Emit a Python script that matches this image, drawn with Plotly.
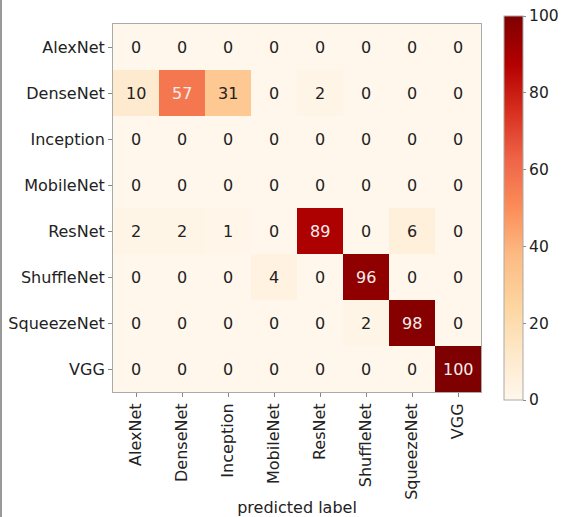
import plotly.graph_objects as go

# Confusion matrix of CNN architecture attribution (rows: true model, cols: predicted)
labels = ["AlexNet", "DenseNet", "Inception", "MobileNet",
          "ResNet", "ShuffleNet", "SqueezeNet", "VGG"]
matrix = [
    [0, 0, 0, 0, 0, 0, 0, 0],
    [10, 57, 31, 0, 2, 0, 0, 0],
    [0, 0, 0, 0, 0, 0, 0, 0],
    [0, 0, 0, 0, 0, 0, 0, 0],
    [2, 2, 1, 0, 89, 0, 6, 0],
    [0, 0, 0, 4, 0, 96, 0, 0],
    [0, 0, 0, 0, 0, 2, 98, 0],
    [0, 0, 0, 0, 0, 0, 0, 100],
]
cbar_ticks = [0, 20, 40, 60, 80, 100]

FONT = "DejaVu Sans"
W, H = 567, 517
L, R, T, B = 113, 86, 24, 125
plot_h = H - T - B
plot_w = W - L - R

fig = go.Figure(go.Heatmap(
    z=matrix, x=labels, y=labels,
    colorscale="OrRd", zmin=0, zmax=100,
    xgap=0, ygap=0,
    colorbar=dict(
        x=(504 - L) / plot_w, xanchor="left", xpad=0,
        y=(H - B - 208) / plot_h, yanchor="middle", ypad=0,
        len=384 / plot_h, lenmode="fraction",
        thickness=19, outlinewidth=1, outlinecolor="#aaaaaa",
        tickvals=cbar_ticks, ticks="outside", ticklen=3,
        tickcolor="#888888",
        tickfont=dict(family=FONT, size=15.5, color="#222222"),
    ),
    hoverinfo="skip",
))

vmax = max(max(r) for r in matrix)
vmin = min(min(r) for r in matrix)
thresh = (vmax + vmin) / 2
for i, row in enumerate(matrix):
    for j, v in enumerate(row):
        fig.add_annotation(
            x=labels[j], y=labels[i], text=str(v), showarrow=False,
            font=dict(family=FONT, size=16,
                      color="#f4eeee" if v > thresh else "#222222"),
        )

axis_common = dict(
    showline=True, linecolor="#aaaaaa", linewidth=1, mirror=True,
    ticks="outside", ticklen=4, tickcolor="#888888",
    tickfont=dict(family=FONT, size=16, color="#222222"),
    showgrid=False, zeroline=False, automargin=False,
)
fig.update_xaxes(**axis_common, tickangle=-90,
                 title=dict(text="predicted label", standoff=2,
                            font=dict(family=FONT, size=16, color="#222222")))
fig.update_yaxes(**axis_common, autorange="reversed")

# thin frame line along the left edge of the figure
fig.add_shape(type="line", xref="paper", yref="paper",
              x0=-(L - 1) / plot_w, x1=-(L - 1) / plot_w,
              y0=-B / plot_h, y1=1 + T / plot_h,
              line=dict(color="#999999", width=2))

fig.update_layout(
    width=W, height=H,
    margin=dict(l=L, r=R, t=T, b=B, autoexpand=False),
    paper_bgcolor="white", plot_bgcolor="white",
    font=dict(family=FONT),
)

fig.write_html("out.html")
